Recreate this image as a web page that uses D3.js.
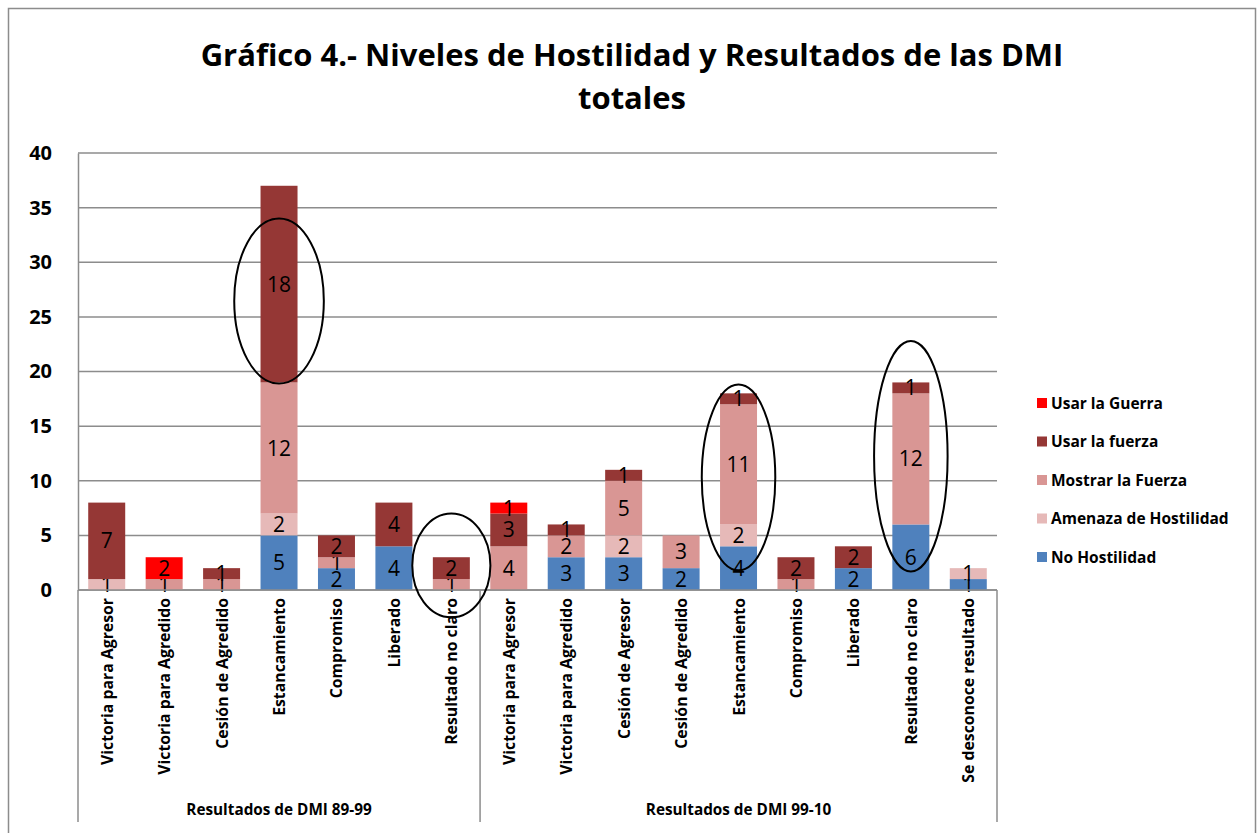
<html>
<head>
<meta charset="utf-8">
<script src="https://d3js.org/d3.v7.min.js"></script>
<style>
    body { margin: 0; background: #fff; }
    text { font-family: "Open Sans", sans-serif; fill: #000; }
</style>
</head>
<body>
<svg id="chart"></svg>
<script>
    // categories (two groups of outcomes)
    var groups = ["Resultados de DMI 89-99", "Resultados de DMI 99-10"];
    var group1 = ["Victoria para Agresor", "Victoria para Agredido", "Cesión de Agredido", "Estancamiento",
        "Compromiso", "Liberado", "Resultado no claro"];
    var group2 = ["Victoria para Agresor", "Victoria para Agredido", "Cesión de Agresor", "Cesión de Agredido",
        "Estancamiento", "Compromiso", "Liberado", "Resultado no claro", "Se desconoce resultado"];

    // series values, stacked bottom to top
    var noHostilidad = [0, 0, 0, 5, 2, 4, 0, 0, 3, 3, 2, 4, 0, 2, 6, 1];
    var amenaza = [1, 0, 0, 2, 0, 0, 0, 0, 0, 2, 0, 2, 0, 0, 0, 1];
    var mostrar = [0, 1, 1, 12, 1, 0, 1, 4, 2, 5, 3, 11, 1, 0, 12, 0];
    var fuerza = [7, 0, 1, 18, 2, 4, 2, 3, 1, 1, 0, 1, 2, 2, 1, 0];
    var guerra = [0, 2, 0, 0, 0, 0, 0, 1, 0, 0, 0, 0, 0, 0, 0, 0];

    var seriesNames = ["No Hostilidad", "Amenaza de Hostilidad", "Mostrar la Fuerza", "Usar la fuerza", "Usar la Guerra"];
    var seriesColors = ["#4f81bd", "#e6b9b8", "#d99694", "#953735", "#ff0000"];

    var yTicks = [0, 5, 10, 15, 20, 25, 30, 35, 40];

    // circled bars: category index, value range covered, half width in steps
    var circleCat = [3, 6, 11, 14];
    var circleLow = [18.9, -2.5, 1.8, 1.7];
    var circleHigh = [34, 7, 18.8, 22.8];
    var circleRx = [0.78, 0.68, 0.64, 0.64];

    var W = 1258, H = 833;
    var plot = { left: 78, right: 997, top: 153, bottom: 590 };

    var svg = d3.select("#chart").attr("width", W).attr("height", H);

    // outer chart border
    svg.append("rect")
        .attr("x", 8.5).attr("y", 8.5)
        .attr("width", 1247).attr("height", 840)
        .attr("fill", "none").attr("stroke", "#8c8c8c").attr("stroke-width", 1.5);

    var cats = group1.map(function (d, i) { return { key: "a" + i, name: d, group: 0 }; })
        .concat(group2.map(function (d, i) { return { key: "b" + i, name: d, group: 1 }; }));

    var rows = cats.map(function (c, i) {
        return { key: c.key, s0: noHostilidad[i], s1: amenaza[i], s2: mostrar[i], s3: fuerza[i], s4: guerra[i] };
    });

    var x = d3.scaleBand()
        .domain(cats.map(function (c) { return c.key; }))
        .range([plot.left, plot.right])
        .paddingInner(0.356)
        .paddingOuter(0.178);

    var y = d3.scaleLinear().domain([0, 40]).range([plot.bottom, plot.top]);

    // gridlines
    svg.append("g")
        .selectAll("line")
        .data(yTicks)
        .enter()
        .append("line")
        .attr("x1", plot.left).attr("x2", plot.right)
        .attr("y1", function (d) { return y(d); })
        .attr("y2", function (d) { return y(d); })
        .attr("stroke", "#8c8c8c").attr("stroke-width", 1.5);

    // y axis
    var yAxis = svg.append("g")
        .attr("transform", "translate(" + plot.left + ",0)")
        .call(d3.axisLeft(y).tickValues(yTicks).tickSize(0).tickPadding(26));
    yAxis.select(".domain").attr("stroke", "#8c8c8c").attr("stroke-width", 1.5);
    yAxis.selectAll("text")
        .style("font-family", "'Open Sans', sans-serif")
        .style("font-size", "20px").style("font-weight", "bold");

    // category axis frame lines
    var frame = svg.append("g").attr("stroke", "#8c8c8c").attr("stroke-width", 1.5);
    frame.append("line").attr("x1", plot.left).attr("x2", plot.left).attr("y1", plot.bottom).attr("y2", 822);
    frame.append("line").attr("x1", plot.right).attr("x2", plot.right).attr("y1", plot.bottom).attr("y2", 822);
    var splitX = x("b0") - x.step() * x.paddingInner() / 2;
    frame.append("line").attr("x1", splitX).attr("x2", splitX).attr("y1", plot.bottom).attr("y2", 822);

    // stacked bars
    var stack = d3.stack().keys(["s0", "s1", "s2", "s3", "s4"]);
    var layers = stack(rows);

    var layerG = svg.append("g")
        .selectAll("g")
        .data(layers)
        .enter()
        .append("g")
        .attr("fill", function (d, i) { return seriesColors[i]; });

    layerG.selectAll("rect")
        .data(function (d) { return d.filter(function (p) { return p[1] - p[0] > 0; }); })
        .enter()
        .append("rect")
        .attr("x", function (d) { return x(d.data.key); })
        .attr("width", x.bandwidth())
        .attr("y", function (d) { return y(d[1]); })
        .attr("height", function (d) { return y(d[0]) - y(d[1]); });

    // x axis line on top of bars
    frame.raise();
    svg.append("line")
        .attr("x1", plot.left).attr("x2", plot.right)
        .attr("y1", plot.bottom).attr("y2", plot.bottom)
        .attr("stroke", "#8c8c8c").attr("stroke-width", 1.5);

    // value labels
    layerG.selectAll("text")
        .data(function (d) { return d.filter(function (p) { return p[1] - p[0] > 0; }); })
        .enter()
        .append("text")
        .attr("x", function (d) { return x(d.data.key) + x.bandwidth() / 2; })
        .attr("y", function (d) { return (y(d[0]) + y(d[1])) / 2; })
        .attr("text-anchor", "middle")
        .attr("dy", "0.36em")
        .style("font-size", "21px")
        .text(function (d) { return d[1] - d[0]; });

    // ellipses
    svg.append("g")
        .selectAll("ellipse")
        .data(circleCat)
        .enter()
        .append("ellipse")
        .attr("cx", function (d) { return x(cats[d].key) + x.bandwidth() / 2; })
        .attr("cy", function (d, i) { return (y(circleLow[i]) + y(circleHigh[i])) / 2; })
        .attr("rx", function (d, i) { return circleRx[i] * x.step(); })
        .attr("ry", function (d, i) { return (y(circleLow[i]) - y(circleHigh[i])) / 2; })
        .attr("fill", "none").attr("stroke", "#000").attr("stroke-width", 2);

    // category labels (rotated)
    svg.append("g")
        .selectAll("text")
        .data(cats)
        .enter()
        .append("text")
        .attr("transform", function (d) {
            return "translate(" + (x(d.key) + x.bandwidth() / 2 + 6) + "," + (plot.bottom + 8) + ") rotate(-90)";
        })
        .attr("text-anchor", "end")
        .style("font-size", "15.8px").style("font-weight", "bold")
        .text(function (d) { return d.name; });

    // group labels
    var groupCenters = [(plot.left + splitX) / 2, (splitX + plot.right) / 2];
    svg.append("g")
        .selectAll("text")
        .data(groups)
        .enter()
        .append("text")
        .attr("x", function (d, i) { return groupCenters[i]; })
        .attr("y", 815)
        .attr("text-anchor", "middle")
        .style("font-size", "15.3px").style("font-weight", "bold")
        .text(function (d) { return d; });

    // title
    var title = svg.append("text")
        .attr("x", 632).attr("y", 66)
        .attr("text-anchor", "middle")
        .style("font-size", "31px").style("font-weight", "bold");
    title.append("tspan").attr("x", 632).text("Gráfico 4.- Niveles de Hostilidad y Resultados de las DMI");
    title.append("tspan").attr("x", 632).attr("dy", 43).text("totales");

    // legend (top item is the last series)
    var legend = svg.append("g")
        .selectAll("g")
        .data(seriesNames.slice().reverse())
        .enter()
        .append("g")
        .attr("transform", function (d, i) { return "translate(1037," + (403 + i * 38.5) + ")"; });
    legend.append("rect")
        .attr("x", 0).attr("y", -5).attr("width", 10).attr("height", 10)
        .attr("fill", function (d) { return seriesColors[seriesNames.indexOf(d)]; });
    legend.append("text")
        .attr("x", 14).attr("dy", "0.36em")
        .style("font-size", "15.5px").style("font-weight", "bold")
        .text(function (d) { return d; });
</script>
</body>
</html>
